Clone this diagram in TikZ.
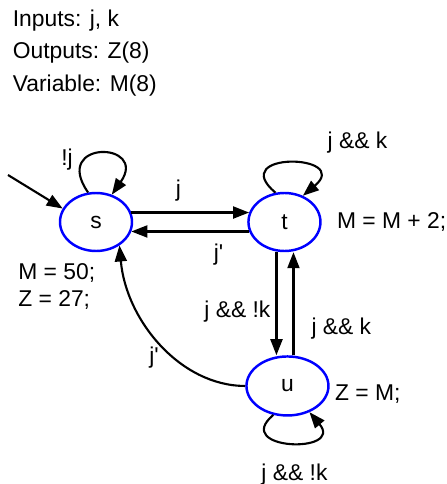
\documentclass[tikz,border=0pt]{standalone}
\usepackage{fontspec}
\setmainfont{Liberation Sans}
\usetikzlibrary{positioning, arrows.meta, shapes.geometric}

\begin{document}
\begin{tikzpicture}[
    node distance=2.06cm and 2.28cm,
    state/.style={ellipse, draw=blue, line width=1.4pt, minimum width=1.44cm, minimum height=1.16cm, inner sep=0pt, font=\fontsize{13}{15}\selectfont},
    arrow/.style={-{Triangle[length=3.2mm, width=2.4mm]}, line width=1.2pt},
    lbl/.style={inner sep=0pt, align=left, font=\fontsize{13}{15.4}\selectfont}
]
\useasboundingbox (0,0) rectangle (8.92,-9.68);

% Declarations
\node[lbl, font=\fontsize{13}{18.5}\selectfont, anchor=north west] (decl) at (0.25,-0.19) {Inputs: j, k\\Outputs: Z(8)\\Variable: M(8)};

% States
\node[state] (s) at (1.92,-4.44) {s};
\node[state, right=of s] (t) {t};
\node[state, below=of t, xshift=0.06cm, minimum width=1.64cm, minimum height=1.18cm] (u) {u};

% Actions
\node[lbl, anchor=north west] (sact) at ([shift={(-1.56,-0.22)}]s.south) {M = 50;\\Z = 27;};
\node[lbl, right=0.3cm of t] (tact) {M = M + 2;};
\node[lbl, right=0.1cm of u, yshift=-0.17cm] (uact) {Z = M;};

% Initial arrow
\coordinate (init) at (0.16,-3.5);
\draw[arrow] (init) -- (s.158);

% Transitions
\draw[arrow] (s.15) -- node[lbl, above=0.2cm, pos=0.4] {j} (t.165);
\draw[arrow] (t.-165) -- node[lbl, below=0.22cm, pos=0.26] {j\textquotesingle} (s.-15);
\draw[arrow] ([xshift=-0.16cm]t.south) -- node[lbl, left=0.1cm, pos=0.58] {j \&\& !k} ([xshift=-0.16cm]t.south |- u.north);
\draw[arrow] ([xshift=0.18cm]t.south |- u.north) -- node[lbl, right=0.34cm, pos=0.26] {j \&\& k} ([xshift=0.18cm]t.south);
\draw[arrow] (u.180) .. controls +(180:1.3) and +(-85:1.5) .. node[lbl, left=0.3cm, pos=0.4] {j\textquotesingle} (s.-45);

% Self loops
\draw[arrow] (s.105) .. controls +(125:1.3) and +(55:1.3) .. node[lbl, left=0.2cm, pos=0.3] {!j} (s.60);
\draw[arrow] (t.107) .. controls +(140:1.3) and +(40:1.3) .. node[lbl, above right=0.34cm and 0.28cm, pos=0.75] {j \&\& k} (t.55);
\draw[arrow] (u.-116) .. controls +(-140:1.1) and +(-50:1.1) .. node[lbl, below=0.42cm, pos=0.55] {j \&\& !k} (u.-50);

\end{tikzpicture}
\end{document}
